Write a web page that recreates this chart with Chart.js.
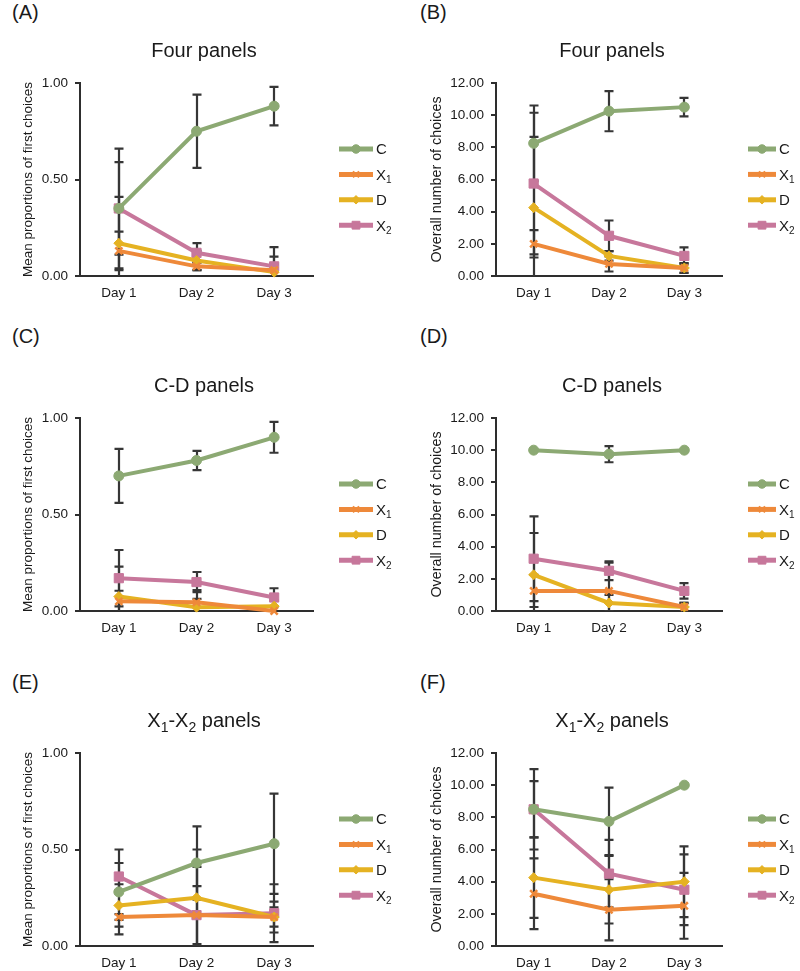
<!DOCTYPE html>
<html>
<head>
<meta charset="utf-8">
<script src="https://cdn.jsdelivr.net/npm/chart.js@4.4.1/dist/chart.umd.min.js"></script>
<style>
  body { margin: 0; background: #fff; }
  #wrap { position: relative; width: 800px; height: 971px; overflow: hidden; font-family: "Liberation Sans", Arial, sans-serif; }
  .panel { position: absolute; width: 400px; height: 310px; }
  .tag { position: absolute; font-size: 20px; line-height: 20px; color: #1a1a1a; }
</style>
</head>
<body>
<div id="wrap">
  <div class="tag" style="left:12px;top:2px">(A)</div>
  <div class="tag" style="left:420px;top:2px">(B)</div>
  <div class="tag" style="left:12px;top:326px">(C)</div>
  <div class="tag" style="left:420px;top:326px">(D)</div>
  <div class="tag" style="left:12px;top:672px">(E)</div>
  <div class="tag" style="left:420px;top:672px">(F)</div>
  <div class="panel" style="left:0;top:0"><canvas id="cA" width="400" height="310"></canvas></div>
  <div class="panel" style="left:400px;top:0"><canvas id="cB" width="400" height="310"></canvas></div>
  <div class="panel" style="left:0;top:335px"><canvas id="cC" width="400" height="310"></canvas></div>
  <div class="panel" style="left:400px;top:335px"><canvas id="cD" width="400" height="310"></canvas></div>
  <div class="panel" style="left:0;top:670px"><canvas id="cE" width="400" height="310"></canvas></div>
  <div class="panel" style="left:400px;top:670px"><canvas id="cF" width="400" height="310"></canvas></div>
</div>
<script>
// --- data (series order: C, X1, D, X2) ---
const days = ["Day 1", "Day 2", "Day 3"];
const seriesNames = ["C", "X1", "D", "X2"];

// proportions of first choices
const aMean = [[0.35, 0.75, 0.88], [0.13, 0.05, 0.03], [0.17, 0.08, 0.02], [0.35, 0.12, 0.05]];
const aErr  = [[0.31, 0.19, 0.10], [0.10, 0.02, 0.03], [0.24, 0.05, 0.08], [0.24, 0.05, 0.10]];
const cMean = [[0.70, 0.78, 0.90], [0.05, 0.045, 0.0], [0.075, 0.02, 0.025], [0.17, 0.15, 0.07]];
const cErr  = [[0.14, 0.05, 0.08], [0.055, 0.063, 0.0], [0.155, 0.043, 0.03], [0.146, 0.052, 0.048]];
const eMean = [[0.28, 0.43, 0.53], [0.15, 0.16, 0.15], [0.21, 0.25, 0.15], [0.36, 0.16, 0.17]];
const eErr  = [[0.22, 0.19, 0.26], [0.015, 0.15, 0.05], [0.11, 0.25, 0.08], [0.07, 0.25, 0.15]];

// overall number of choices
const bMean = [[8.25, 10.25, 10.5], [2.0, 0.75, 0.5], [4.25, 1.25, 0.5], [5.75, 2.5, 1.25]];
const bErr  = [[2.35, 1.25, 0.57], [0.85, 0.47, 0.3], [4.4, 0.3, 0.3], [4.4, 0.95, 0.53]];
const dMean = [[10, 9.75, 10], [1.25, 1.25, 0.25], [2.25, 0.5, 0.25], [3.25, 2.5, 1.25]];
const dErr  = [[0, 0.5, 0], [1.0, 1.75, 0.25], [2.6, 0.5, 0.25], [2.63, 0.58, 0.48]];
const fMean = [[8.5, 7.75, 10], [3.25, 2.25, 2.5], [4.25, 3.5, 4.0], [8.5, 4.5, 3.5]];
const fErr  = [[2.5, 2.1, 0], [2.2, 1.9, 2.05], [2.5, 2.1, 2.2], [1.75, 2.1, 2.2]];

// --- styles ---
const FONT = "'Liberation Sans', Arial, sans-serif";
const TEXT = "#1a1a1a";
const AXIS = "#2e2e2e";
const colors = ["#8CA973", "#EE893A", "#E5B222", "#C7779B"];
const shapes = ["circle", "crossRot", "rectRot", "rect"];
const radii = [5, 5, 5, 6.5];

// draw text with subscript parts: segs = [[text, isSub], ...]
function drawRich(ctx, segs, cx, cy, size, align) {
  const subSize = Math.round(size * 0.68);
  let total = 0;
  segs.forEach(([t, sub]) => {
    ctx.font = `${sub ? subSize : size}px ${FONT}`;
    total += ctx.measureText(t).width;
  });
  let x = align === "left" ? cx : cx - total / 2;
  ctx.textAlign = "left";
  ctx.textBaseline = "alphabetic";
  segs.forEach(([t, sub]) => {
    ctx.font = `${sub ? subSize : size}px ${FONT}`;
    ctx.fillText(t, x, cy + size * 0.36 + (sub ? size * 0.22 : 0));
    x += ctx.measureText(t).width;
  });
}

function labelSegs(name) {
  if (name.length === 2) return [[name[0], false], [name[1], true]];
  return [[name, false]];
}

// error bars behind the lines
const errorBars = {
  id: "errorBars",
  beforeDatasetsDraw(chart) {
    const { ctx, chartArea: ca, scales: { x, y } } = chart;
    ctx.save();
    ctx.beginPath();
    ctx.rect(ca.left, ca.top - 10, ca.width, ca.height + 10);
    ctx.clip();
    ctx.strokeStyle = "#363636";
    ctx.lineWidth = 2.2;
    chart.data.datasets.forEach(ds => {
      ds.data.forEach((v, i) => {
        const e = ds.errors[i];
        if (!e) return;
        const px = Math.round(x.getPixelForValue(i));
        const top = y.getPixelForValue(v + e);
        const bot = y.getPixelForValue(v - e);
        ctx.beginPath();
        ctx.moveTo(px, top); ctx.lineTo(px, bot);
        ctx.moveTo(px - 4.5, top); ctx.lineTo(px + 4.5, top);
        ctx.moveTo(px - 4.5, bot); ctx.lineTo(px + 4.5, bot);
        ctx.stroke();
      });
    });
    ctx.restore();
  }
};

// title + legend
const decorations = {
  id: "decorations",
  afterDraw(chart, args, opts) {
    const ctx = chart.ctx;
    ctx.save();
    ctx.fillStyle = TEXT;
    drawRich(ctx, opts.title, opts.titleX, 50, 20, "center");
    chart.data.datasets.forEach((ds, i) => {
      const ly = 149 + i * 25.4;
      const x0 = opts.legX, x1 = opts.legX + opts.legLen;
      ctx.strokeStyle = ds.borderColor;
      ctx.lineWidth = 5;
      ctx.lineCap = "butt";
      ctx.beginPath(); ctx.moveTo(x0, ly); ctx.lineTo(x1, ly); ctx.stroke();
      ctx.fillStyle = ds.borderColor;
      ctx.strokeStyle = ds.borderColor;
      ctx.lineWidth = ds.pointStyle === "crossRot" ? 2 : 1;
      Chart.helpers.drawPoint(ctx, {
        pointStyle: ds.pointStyle, radius: ds.pointRadius * 0.85, rotation: 0,
        borderWidth: ctx.lineWidth
      }, (x0 + x1) / 2, ly);
      ctx.fillStyle = TEXT;
      drawRich(ctx, labelSegs(seriesNames[i]), x1 + 3, ly, 15, "left");
    });
    ctx.restore();
  }
};

function makePanel(id, means, errs, opt) {
  const datasets = seriesNames.map((n, i) => ({
    label: n,
    data: means[i],
    errors: errs[i],
    borderColor: colors[i],
    backgroundColor: colors[i],
    borderWidth: 4,
    pointStyle: shapes[i],
    pointRadius: radii[i],
    pointBackgroundColor: colors[i],
    pointBorderColor: colors[i],
    pointBorderWidth: shapes[i] === "crossRot" ? 2.5 : 1,
    tension: 0,
    clip: false
  }));
  return new Chart(document.getElementById(id), {
    type: "line",
    data: { labels: days, datasets },
    plugins: [errorBars, decorations],
    options: {
      responsive: false,
      animation: false,
      devicePixelRatio: 1,
      layout: { padding: { top: 83, left: 0, right: opt.right, bottom: 0 } },
      plugins: {
        legend: { display: false },
        tooltip: { enabled: false },
        decorations: { title: opt.title, titleX: opt.titleX, legX: opt.legX, legLen: opt.legLen }
      },
      scales: {
        x: {
          offset: true,
          grid: { display: false, drawTicks: false },
          border: { display: true, color: AXIS, width: 2 },
          ticks: { color: TEXT, font: { family: FONT, size: 13.5 }, padding: 9, maxRotation: 0 },
          afterFit: s => { s.height = 34; }
        },
        y: {
          min: 0,
          max: opt.max,
          grid: { drawOnChartArea: false, drawTicks: true, tickLength: 5, color: AXIS, lineWidth: 2 },
          border: { display: true, color: AXIS, width: 2 },
          ticks: {
            stepSize: opt.step, padding: 7, color: TEXT,
            font: { family: FONT, size: 13.5 },
            callback: v => Number(v).toFixed(2)
          },
          title: {
            display: true, text: opt.yTitle, color: TEXT,
            font: { family: FONT, size: opt.yTitleSize },
            padding: { top: opt.yTitlePad, bottom: 0 }
          },
          afterFit: s => { s.width = opt.yWidth; }
        }
      }
    }
  });
}

const fourTitle = [["Four panels", false]];
const cdTitle = [["C-D panels", false]];
const xxTitle = [["X", false], ["1", true], ["-X", false], ["2", true], [" panels", false]];

const leftOpt = { right: 87, yWidth: 80, yTitlePad: 20, yTitleSize: 13.5, max: 1, step: 0.5,
  yTitle: "Mean proportions of first choices", titleX: 204, legX: 339, legLen: 34 };
const rightOpt = { right: 78, yWidth: 96, yTitlePad: 28, yTitleSize: 14.3, max: 12, step: 2,
  yTitle: "Overall number of choices", titleX: 212, legX: 348, legLen: 28 };

makePanel("cA", aMean, aErr, { ...leftOpt, title: fourTitle });
makePanel("cB", bMean, bErr, { ...rightOpt, title: fourTitle });
makePanel("cC", cMean, cErr, { ...leftOpt, title: cdTitle });
makePanel("cD", dMean, dErr, { ...rightOpt, title: cdTitle });
makePanel("cE", eMean, eErr, { ...leftOpt, title: xxTitle });
makePanel("cF", fMean, fErr, { ...rightOpt, title: xxTitle });
</script>
</body>
</html>
